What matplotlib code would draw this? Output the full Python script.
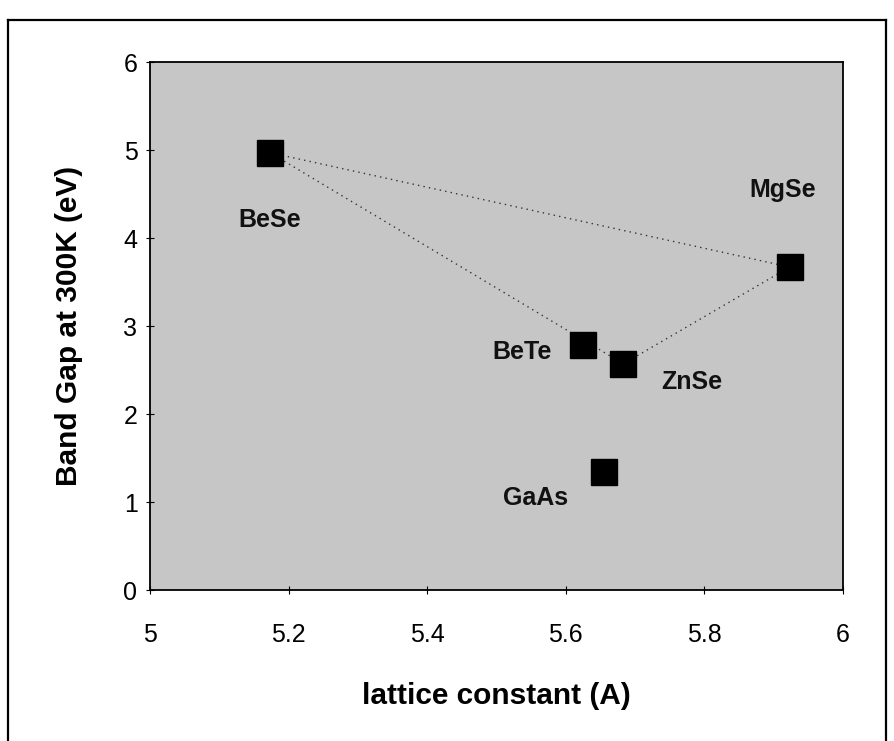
import matplotlib.pyplot as plt
from matplotlib.lines import Line2D

plt.rcParams['font.family'] = ['Liberation Sans', 'DejaVu Sans']

# band gap vs lattice constant
compounds = ['BeSe', 'BeTe', 'ZnSe', 'GaAs', 'MgSe']
lattice = [5.173, 5.625, 5.683, 5.655, 5.923]
gap = [4.97, 2.78, 2.57, 1.34, 3.67]

# where each name sits relative to its point
label_pos = {
    'BeSe': (5.173, 4.21),
    'BeTe': (5.537, 2.70),
    'ZnSe': (5.782, 2.36),
    'GaAs': (5.557, 1.05),
    'MgSe': (5.913, 4.54),
}

# dotted triangle through the ternary end points
tie_line = ['BeSe', 'ZnSe', 'MgSe', 'BeSe']

x_ticks = [5, 5.2, 5.4, 5.6, 5.8, 6]
x_tick_labels = ['5', '5.2', '5.4', '5.6', '5.8', '6']
y_ticks = [0, 1, 2, 3, 4, 5, 6]

fig = plt.figure(figsize=(8.94, 7.41), dpi=100)
ax = fig.add_axes([150 / 894, 1 - 590 / 741, 693 / 894, 528 / 741])
ax.set_facecolor('#c6c6c6')

idx = {c: i for i, c in enumerate(compounds)}
ax.plot([lattice[idx[c]] for c in tie_line], [gap[idx[c]] for c in tie_line],
        linestyle=(0, (1, 3)), color='#333333', linewidth=1.0, zorder=2)

ax.plot(lattice, gap, linestyle='none', marker='s', markersize=19,
        color='black', zorder=3)

for c in compounds:
    lx, ly = label_pos[c]
    ax.text(lx, ly, c, fontsize=18, fontweight='bold', ha='center',
            va='center', color='#111111', zorder=4)

ax.set_xlim(5, 6)
ax.set_ylim(0, 6)
ax.set_xticks(x_ticks)
ax.set_xticklabels(x_tick_labels)
ax.set_yticks(y_ticks)
ax.tick_params(axis='both', direction='inout', length=6, width=0.8,
               labelsize=18)
ax.tick_params(axis='x', pad=21)
ax.tick_params(axis='y', pad=6)
for s in ax.spines.values():
    s.set_linewidth(1.3)

ax.set_xlabel('lattice constant (A)', fontsize=21.5, fontweight='bold')
ax.set_ylabel('Band Gap at 300K (eV)', fontsize=21.5, fontweight='bold')
ax.xaxis.set_label_coords(0.5, -0.174)
ax.yaxis.set_label_coords(-0.097, 0.5)

# outer frame of the scanned figure
left, top, right = 8 / 894, 1 - 20 / 741, 886 / 894
for xs, ys in [([left, left], [0, top]), ([left, right], [top, top]),
               ([right, right], [0, top])]:
    fig.add_artist(Line2D(xs, ys, color='black', linewidth=1.6,
                          transform=fig.transFigure))

fig.savefig('out.png', dpi=100)
